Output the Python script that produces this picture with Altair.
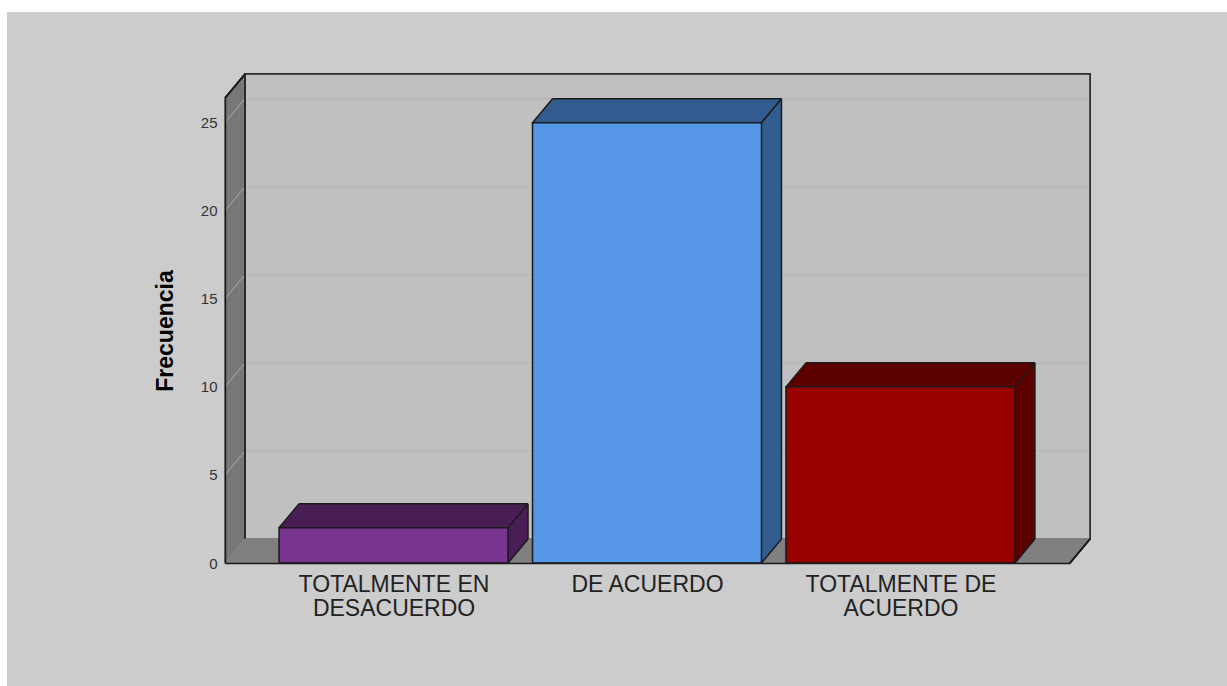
import altair as alt
import pandas as pd

# ---------------- data ----------------
categories = ["TOTALMENTE EN DESACUERDO", "DE ACUERDO", "TOTALMENTE DE ACUERDO"]
label_lines = [["TOTALMENTE EN", "DESACUERDO"], ["DE ACUERDO"], ["TOTALMENTE DE", "ACUERDO"]]
frequencies = [2, 25, 10]
front_colors = ["#77358f", "#5596e6", "#990000"]
side_colors = ["#4a1f56", "#335d90", "#5c0000"]
y_ticks = [0, 5, 10, 15, 20, 25]
y_title = "Frecuencia"

# ---------------- style / layout ----------------
W, H = 845, 465          # front plot area
DX, DY = 20, -24         # 3D depth offset in pixels
N = 24                   # extrusion steps
HALF = 0.4517            # half bar width (in category units)
XDOM = [-0.665, 2.669]
YDOM = [0, 26.4]
FONT = "Liberation Sans"
EDGE = "#1a1a1a"

xs = alt.Scale(domain=XDOM, nice=False, zero=False)
ys = alt.Scale(domain=YDOM, nice=False, zero=False)

label_js = "[" + ",".join(
    "[" + ",".join("'" + s + "'" for s in lines) + "]" for lines in label_lines
) + "]"
x_axis = alt.Axis(
    values=list(range(len(categories))),
    labelExpr=f"{label_js}[datum.value]",
    title="", ticks=False, grid=False, domain=True,
    domainColor=EDGE, domainWidth=1.5, labelFont=FONT, labelFontSize=23,
    labelColor="#222222", labelPadding=10, labelLineHeight=24, zindex=1,
    labelFlush=False, labelOverlap=False, labelLimit=1000,
)
y_axis = alt.Axis(
    values=y_ticks, title=y_title, ticks=False, grid=False, domain=True,
    domainColor=EDGE, domainWidth=1.5, labelFont=FONT, labelFontSize=15,
    labelColor="#333333", labelPadding=8, titleFont=FONT, titleFontSize=23,
    titleFontWeight="bold", titleColor="#000000", titlePadding=23, zindex=1,
)


def X(f):
    return alt.X(f, scale=xs, axis=x_axis)


def Y(f):
    return alt.Y(f, scale=ys, axis=y_axis)


bars = pd.DataFrame({
    "idx": list(range(len(categories))),
    "cat": categories,
    "freq": frequencies,
    "front": front_colors,
    "side": side_colors,
})
ticks_df = pd.DataFrame({"v": y_ticks})

layers = []

# page background panel
layers.append(
    alt.Chart(bars).mark_rect(color="#cccccc").encode(
        x=alt.value(7 - 225), x2=alt.value(1227 - 225),
        y=alt.value(12 - 98), y2=alt.value(686 - 98),
    )
)

# back wall
layers.append(
    alt.Chart(bars).mark_rect(color="#c0c0c0", stroke="#2a2a2a", strokeWidth=1.5).encode(
        x=alt.value(DX), x2=alt.value(W + DX), y=alt.value(DY), y2=alt.value(H + DY),
    )
)

# back wall grid lines
layers.append(
    alt.Chart(ticks_df).transform_filter("datum.v > 0").mark_rule(
        color="#b4b4b4", strokeWidth=1.2, yOffset=DY
    ).encode(
        x=alt.value(DX + 1), x2=alt.value(W + DX - 1),
        y=Y("v:Q"),
    )
)

# left wall (stacked vertical rules)
for k in range(N + 1):
    layers.append(
        alt.Chart(bars).mark_rule(color="#787878", strokeWidth=1.6).encode(
            x=alt.value(k * DX / N), y=alt.value(-k), y2=alt.value(H - k),
        )
    )

# left wall grid diagonals
layers.append(
    alt.Chart(ticks_df).mark_rule(
        color="#ababab", strokeWidth=1, y2Offset=DY
    ).encode(
        x=alt.value(0), x2=alt.value(DX),
        y=Y("v:Q"), y2="v:Q",
    )
)

# left wall edges (top diagonal, back vertical)
layers.append(
    alt.Chart(bars).mark_rule(color=EDGE, strokeWidth=1.5).encode(
        x=alt.value(0), x2=alt.value(DX), y=alt.value(0), y2=alt.value(DY),
    )
)
layers.append(
    alt.Chart(bars).mark_rule(color="#2a2a2a", strokeWidth=1.5).encode(
        x=alt.value(DX), y=alt.value(DY), y2=alt.value(H + DY),
    )
)

# floor (stacked horizontal rules)
for k in range(N + 1):
    layers.append(
        alt.Chart(bars).mark_rule(color="#808080", strokeWidth=1.5).encode(
            x=alt.value(k * DX / N), x2=alt.value(W + k * DX / N), y=alt.value(H - k),
        )
    )

# floor right edge
layers.append(
    alt.Chart(bars).mark_rule(color=EDGE, strokeWidth=1.5).encode(
        x=alt.value(W), x2=alt.value(W + DX), y=alt.value(H), y2=alt.value(H + DY),
    )
)

base = alt.Chart(bars).transform_calculate(
    x0=f"datum.idx - {HALF}", x1=f"datum.idx + {HALF}", zero="0"
)

# bar extrusion (top + side faces)
for k in range(N, 0, -1):
    ox, oy = k * DX / N, k * DY / N
    layers.append(
        base.mark_rect(xOffset=ox, x2Offset=ox, yOffset=oy, y2Offset=oy).encode(
            x=X("x0:Q"), x2="x1:Q",
            y=Y("freq:Q"), y2="zero:Q",
            color=alt.Color("side:N", scale=None),
        )
    )

# bar front faces
layers.append(
    base.mark_rect(stroke=EDGE, strokeWidth=1.5).encode(
        x=X("x0:Q"), x2="x1:Q",
        y=Y("freq:Q"), y2="zero:Q",
        color=alt.Color("front:N", scale=None),
    )
)

# bar edges
edge_kw = dict(color=EDGE, strokeWidth=1.5)
layers.append(
    base.mark_rule(xOffset=DX, x2Offset=DX, yOffset=DY, y2Offset=DY, **edge_kw).encode(
        x=X("x0:Q"), x2="x1:Q", y=Y("freq:Q"), y2="freq:Q",
    )
)
layers.append(
    base.mark_rule(xOffset=DX, x2Offset=DX, yOffset=DY, y2Offset=DY, **edge_kw).encode(
        x=X("x1:Q"), x2="x1:Q", y=Y("freq:Q"), y2="zero:Q",
    )
)
for xf, yf in [("x0", "freq"), ("x1", "freq"), ("x1", "zero")]:
    layers.append(
        base.mark_rule(x2Offset=DX, y2Offset=DY, **edge_kw).encode(
            x=X(f"{xf}:Q"), x2=f"{xf}:Q", y=Y(f"{yf}:Q"), y2=f"{yf}:Q",
        )
    )

# axes layer
layers.append(
    alt.Chart(bars).mark_point(opacity=0).encode(
        x=X("idx:Q"), y=Y("freq:Q"),
    )
)

chart = alt.layer(*layers).properties(
    width=W, height=H,
    padding={"left": 225, "top": 98, "right": 1227 - 225 - W, "bottom": 686 - 98 - H},
    autosize=alt.AutoSizeParams(type="none"),
    background="#ffffff",
).configure_view(stroke=None)

chart.save("out.html", embed_options={"renderer": "svg", "actions": False})
